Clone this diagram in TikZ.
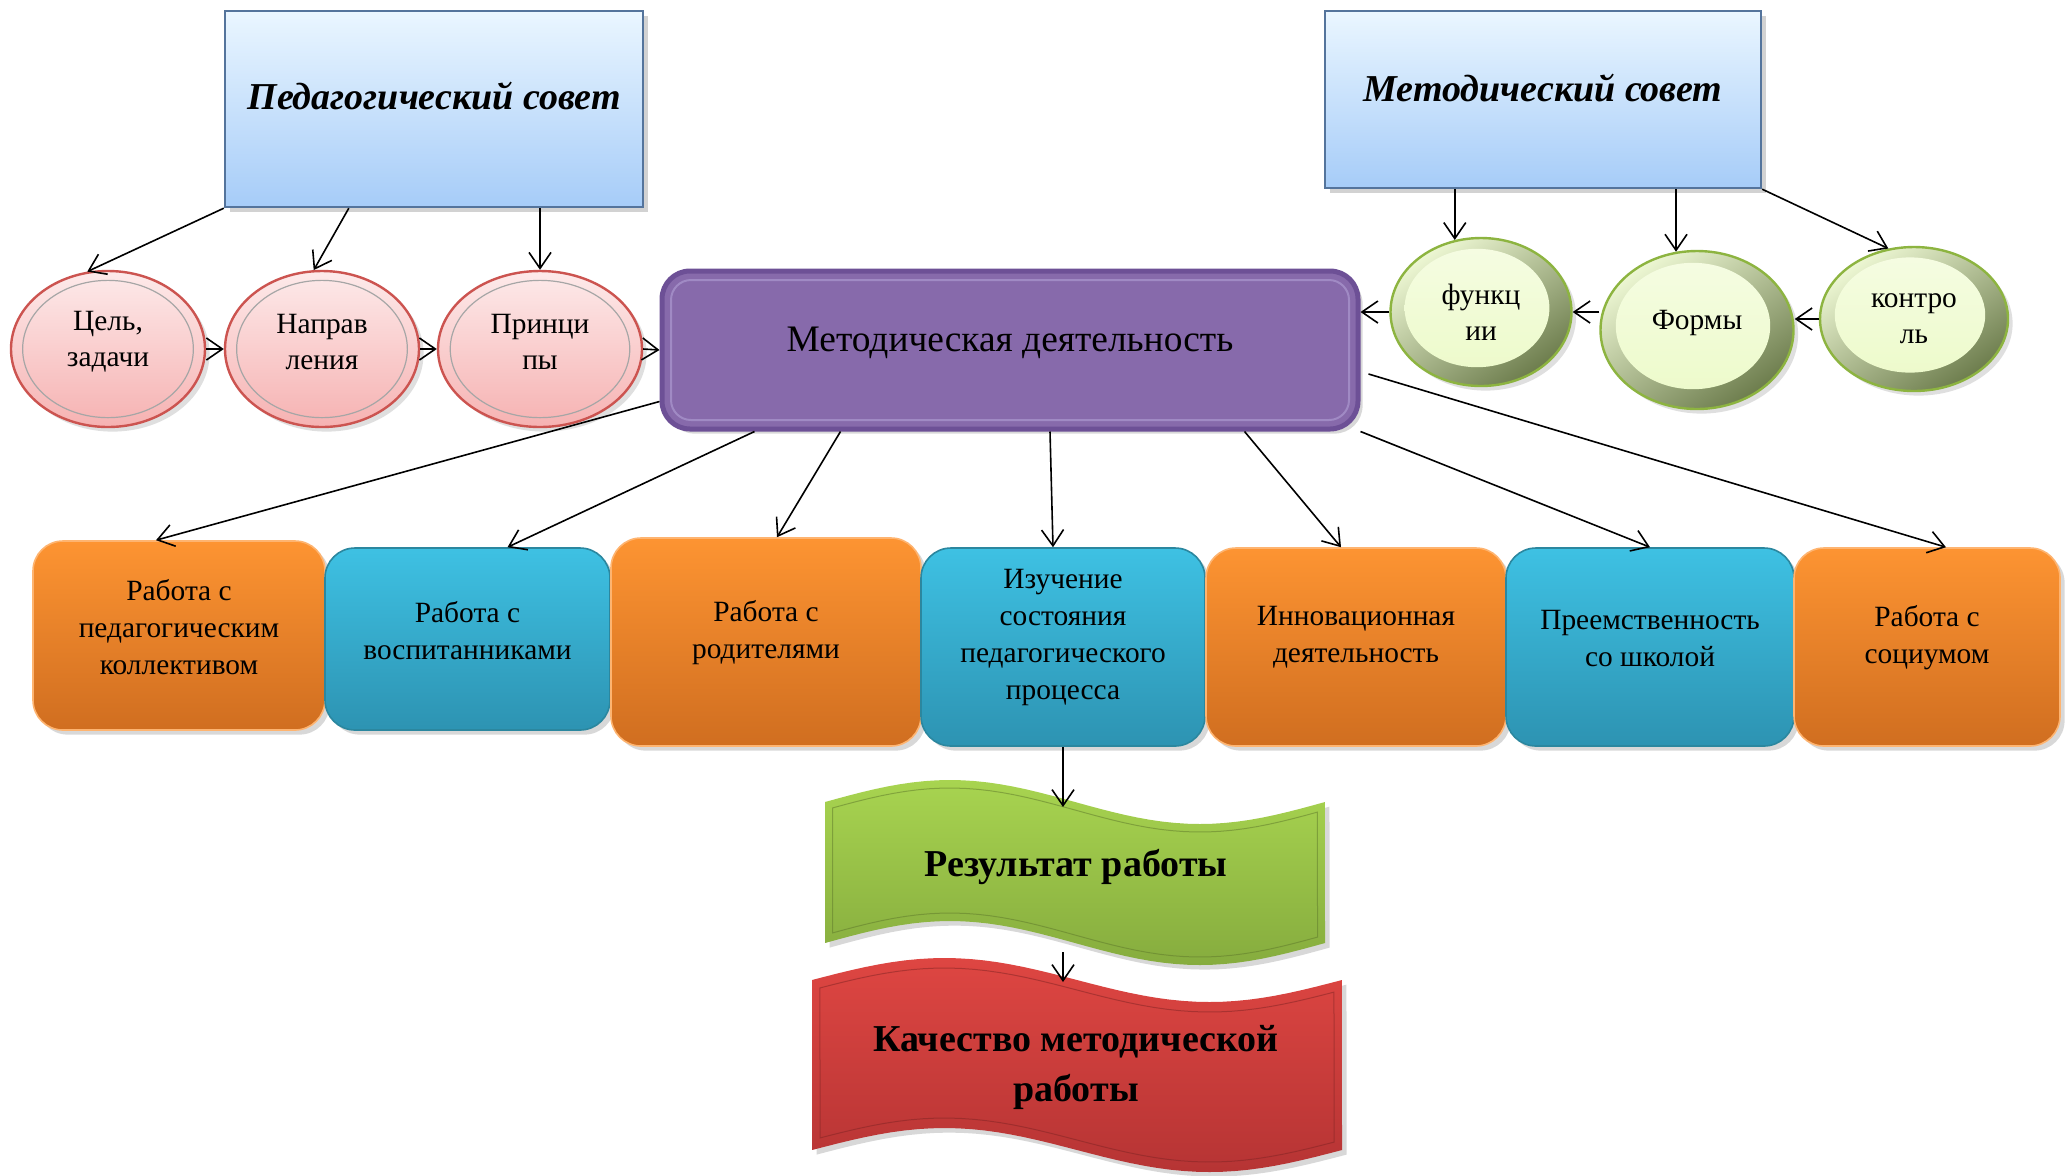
\documentclass[tikz,border=0pt]{standalone}
\usepackage{fontspec}
\setmainfont{Liberation Serif}
\usetikzlibrary{shapes.geometric,arrows.meta,shadows,calc}
\definecolor{SovetTop}{RGB}{234,246,255}
\definecolor{SovetBot}{RGB}{166,204,248}
\definecolor{SovetLine}{RGB}{84,116,156}
\definecolor{PinkTop}{RGB}{253,234,234}
\definecolor{PinkBot}{RGB}{246,178,178}
\definecolor{PinkLine}{RGB}{204,84,80}
\definecolor{OliveDark}{RGB}{108,124,76}
\definecolor{OliveLight}{RGB}{238,248,212}
\definecolor{GreenLine}{RGB}{141,180,64}
\definecolor{LimeIn}{RGB}{236,250,200}
\definecolor{MetPurple}{RGB}{135,106,171}
\definecolor{MetLine}{RGB}{109,80,150}
\definecolor{MetInner}{RGB}{160,138,196}
\definecolor{OrTop}{RGB}{253,148,50}
\definecolor{OrBot}{RGB}{208,110,32}
\definecolor{BlTop}{RGB}{62,193,227}
\definecolor{BlBot}{RGB}{45,147,178}
\definecolor{ResTop}{RGB}{168,212,80}
\definecolor{ResBot}{RGB}{134,172,62}
\definecolor{KachTop}{RGB}{222,70,66}
\definecolor{KachBot}{RGB}{182,52,52}

\begin{document}
\begin{tikzpicture}[x=0.5pt, y=-0.5pt,
  >={Straight Barb[length=8pt,width=11pt]},
  arr/.style={->, line width=0.8pt},
  sovetbox/.style={rectangle, draw=SovetLine, line width=1.2pt, top color=SovetTop, bottom color=SovetBot,
    drop shadow={opacity=0.35}, font=\fontsize{19}{23}\selectfont\bfseries\itshape},
  pinkcirc/.style={ellipse, draw=PinkLine, line width=1.2pt, top color=PinkTop, bottom color=PinkBot,
    minimum width=97pt, minimum height=78pt, inner sep=0pt, align=center, text depth=7pt,
    font=\fontsize{14.7}{18}\selectfont, drop shadow={opacity=0.25},
    path picture={\draw[gray!70, line width=0.6pt] let \p1=($(path picture bounding box.north east)-(path picture bounding box.center)$)
      in (path picture bounding box.center) ellipse [x radius=0.88*\x1, y radius=0.88*\y1];}},
  greencirc/.style={ellipse, draw=GreenLine, line width=1.2pt, top color=OliveLight, bottom color=OliveDark, shading angle=35,
    inner sep=0pt, align=center, font=\fontsize{14.7}{18}\selectfont, drop shadow={opacity=0.25},
    path picture={\shade[top color=white!50!LimeIn, bottom color=LimeIn] let \p1=($(path picture bounding box.north east)-(path picture bounding box.center)$)
      in ($(path picture bounding box.center)+(-2pt,2pt)$) ellipse [x radius=0.8*\x1, y radius=0.8*\y1];}},
  centerbox/.style={rectangle, rounded corners=14pt, fill=MetPurple, draw=MetLine, line width=2.5pt,
    font=\fontsize{18.7}{24}\selectfont, text depth=11pt, drop shadow={opacity=0.3},
    path picture={\draw[MetInner, line width=1pt, rounded corners=10pt] ([shift={(4.5pt,4.5pt)}]path picture bounding box.south west)
      rectangle ([shift={(-4.5pt,-4.5pt)}]path picture bounding box.north east);}},
  orangebox/.style={rectangle, rounded corners=15pt, top color=OrTop, bottom color=OrBot, draw=OrTop!70!white, line width=0.8pt,
    align=center, font=\fontsize{14.7}{18.5}\selectfont, inner sep=2pt, text depth=12.5pt, drop shadow={opacity=0.3}},
  bluebox/.style={orangebox, top color=BlTop, bottom color=BlBot, draw=BlTop!70!black},
  bannertext/.style={align=center, font=\fontsize{19}{25}\selectfont\bfseries}
]
\path[use as bounding box, fill=white] (0,0) rectangle (2071,1175);

\node[sovetbox, minimum width=209pt, minimum height=98pt, text depth=13pt] (ped) at (434,109) {Педагогический совет};
\node[sovetbox, minimum width=218pt, minimum height=88.5pt, text depth=12pt] (met) at (1543,99.5) {Методический совет};

\node[pinkcirc, text depth=10pt] (c1) at (108,349) {Цель,\\задачи};
\node[pinkcirc] (c2) at (322,349) {Направ\\ления};
\node[pinkcirc, minimum width=102pt] (c3) at (540,349) {Принци\\пы};

\node[centerbox, minimum width=348pt, minimum height=79pt] (md) at (1010,350) {Методическая деятельность};

\node[greencirc, minimum width=90.5pt, minimum height=74pt] (f1) at (1481,312) {функц\\ии};
\node[greencirc, minimum width=96.5pt, minimum height=79pt, text depth=10pt] (f2) at (1697,330) {Формы};
\node[greencirc, minimum width=94pt, minimum height=72pt] (f3) at (1914,319) {контро\\ль};

\node[orangebox, minimum width=146pt, minimum height=94.5pt, text depth=9pt] (b1) at (179,635.5) {Работа с\\педагогическим\\коллективом};
\node[bluebox, minimum width=142.5pt, minimum height=91pt, text depth=9pt] (b2) at (467.5,639) {Работа с\\воспитанниками};
\node[orangebox, minimum width=155pt, minimum height=104pt] (b3) at (766,642) {Работа с\\родителями};
\node[bluebox, minimum width=142pt, minimum height=99pt] (b4) at (1063,647) {Изучение\\состояния\\педагогического\\процесса};
\node[orangebox, minimum width=150pt, minimum height=99pt] (b5) at (1356,647) {Инновационная\\деятельность};
\node[bluebox, minimum width=144pt, minimum height=99pt, text depth=9pt] (b6) at (1650,647) {Преемственность\\со школой};
\node[orangebox, minimum width=133pt, minimum height=99pt] (b7) at (1927,647) {Работа с\\социумом};

\shade[top color=ResTop, bottom color=ResBot, drop shadow={opacity=0.3}]
  plot[variable=\t, domain=0:1, samples=41] ({825+500*\t},{802-22*sin(360*\t)})
  -- plot[variable=\t, domain=1:0, samples=41] ({825+500*\t},{943-22*sin(360*\t)}) -- cycle;
\draw[ResBot!70!black, line width=0.5pt, opacity=0.5]
  plot[variable=\t, domain=0.015:0.985, samples=41] ({825+500*\t},{810-22*sin(360*\t)})
  -- plot[variable=\t, domain=0.985:0.015, samples=41] ({825+500*\t},{935-22*sin(360*\t)}) -- cycle;
\shade[top color=KachTop, bottom color=KachBot, drop shadow={opacity=0.3}]
  plot[variable=\t, domain=0:1, samples=41] ({812+530*\t},{980-22*sin(360*\t)})
  -- plot[variable=\t, domain=1:0, samples=41] ({812+530*\t},{1150-22*sin(360*\t)}) -- cycle;
\draw[KachBot!70!black, line width=0.5pt, opacity=0.5]
  plot[variable=\t, domain=0.015:0.985, samples=41] ({812+530*\t},{990-22*sin(360*\t)})
  -- plot[variable=\t, domain=0.985:0.015, samples=41] ({812+530*\t},{1140-22*sin(360*\t)}) -- cycle;
\node[bannertext] (res) at (1076,867) {Результат работы};
\node[bannertext] (kach) at (1076,1067) {Качество методической\\работы};
\coordinate (gtop) at (1063,807);
\coordinate (gbot) at (1063,952);
\coordinate (rin) at (1063,982);

\draw[arr] (ped.south west) -- (c1.105);
\draw[arr] ([xshift=62.5pt]ped.south west) -- (c2.96);
\draw[arr] (ped.south -| c3.north) -- (c3.north);
\draw[arr] (c1.east) -- (c2.west);
\draw[arr] (c2.east) -- (c3.west);
\draw[arr] (c3.east) -- (md.west);

\draw[arr] (f1.110 |- met.south) -- (f1.110);
\draw[arr] (f2.105 |- met.south) -- (f2.105);
\draw[arr] (met.south east) -- (f3.110);
\draw[arr] (f3.west) -- (f3.west -| f2.east);
\draw[arr] (f2.west |- f1.east) -- (f1.east);
\draw[arr] (f1.west) -- (f1.west -| md.east);

\draw[arr] ([yshift=15pt]md.south west) -- ([xshift=-11.5pt]b1.north);
\draw[arr] ([xshift=47.5pt]md.south west) -- ([xshift=20pt]b2.north);
\draw[arr] ([xshift=90.5pt]md.south west) -- ([xshift=5.5pt]b3.north);
\draw[arr] ([xshift=20pt]md.south) -- ([xshift=-5pt]b4.north);
\draw[arr] ([xshift=-58pt]md.south east) -- ([xshift=-7.5pt]b5.north);
\draw[arr] (md.south east) -- (b6.north);
\draw[arr] ([xshift=4pt,yshift=-12pt]md.east) -- ([xshift=9.5pt]b7.north);

\draw[arr] (b4.south) -- (gtop);
\draw[arr] (gbot) -- (rin);
\end{tikzpicture}
\end{document}
